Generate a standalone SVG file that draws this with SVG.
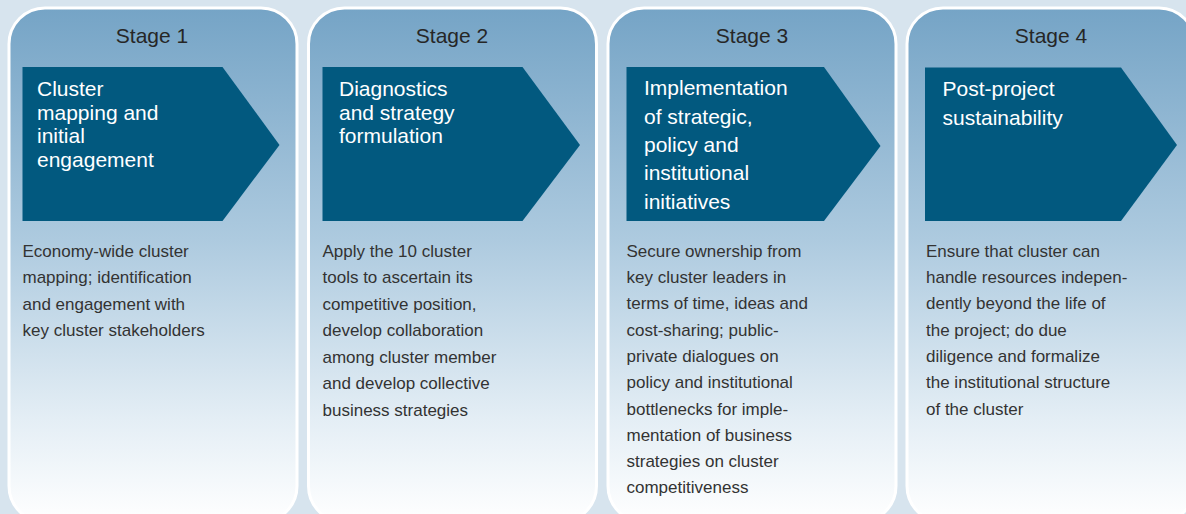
<svg xmlns="http://www.w3.org/2000/svg" width="1186" height="514" viewBox="0 0 1186 514">
<defs>
<linearGradient id="cardGrad" x1="0" y1="0" x2="0" y2="1" gradientUnits="objectBoundingBox">
<stop offset="0" stop-color="#75a4c6"/>
<stop offset="0.45" stop-color="#adcadf"/>
<stop offset="0.8" stop-color="#e4eef5"/>
<stop offset="1" stop-color="#ffffff"/>
</linearGradient>
<style>
.card{fill:url(#cardGrad);stroke:#ffffff;stroke-width:3}
.arrow{fill:#02597f}
.title{font-family:"Liberation Sans",Arial,sans-serif;font-size:21px;fill:#262626;text-anchor:middle}
.head{font-family:"Liberation Sans",Arial,sans-serif;font-size:21px;fill:#ffffff}
.body{font-family:"Liberation Sans",Arial,sans-serif;font-size:17px;fill:#333333}
</style>
</defs>
<rect x="0" y="0" width="1186" height="514" fill="#d7e4ee"/>
<g id="stage1">
<rect class="card" x="9" y="8" width="288" height="514" rx="36" ry="36"/>
<text class="title" x="152" y="43">Stage 1</text>
<polygon class="arrow" points="22.5,67 222.5,67 279.5,145 222.5,221 22.5,221"/>
<text class="head" x="37"><tspan x="37" y="96">Cluster</tspan><tspan x="37" y="119.5">mapping and</tspan><tspan x="37" y="143">initial</tspan><tspan x="37" y="167">engagement</tspan></text>
<text class="body"><tspan x="22.5" y="256.5">Economy-wide cluster</tspan><tspan x="22.5" y="283">mapping; identification</tspan><tspan x="22.5" y="309.5">and engagement with</tspan><tspan x="22.5" y="336">key cluster stakeholders</tspan></text>
</g>
<g id="stage2">
<rect class="card" x="308.5" y="8" width="288" height="514" rx="36" ry="36"/>
<text class="title" x="452" y="43">Stage 2</text>
<polygon class="arrow" points="322.5,67 522.5,67 580,145 522.5,221 322.5,221"/>
<text class="head"><tspan x="339" y="96">Diagnostics</tspan><tspan x="339" y="120">and strategy</tspan><tspan x="339" y="143">formulation</tspan></text>
<text class="body"><tspan x="322.5" y="256.5">Apply the 10 cluster</tspan><tspan x="322.5" y="283">tools to ascertain its</tspan><tspan x="322.5" y="309.5">competitive position,</tspan><tspan x="322.5" y="336">develop collaboration</tspan><tspan x="322.5" y="362.5">among cluster member</tspan><tspan x="322.5" y="389">and develop collective</tspan><tspan x="322.5" y="415.5">business strategies</tspan></text>
</g>
<g id="stage3">
<rect class="card" x="608" y="8" width="288" height="514" rx="36" ry="36"/>
<text class="title" x="752" y="43">Stage 3</text>
<polygon class="arrow" points="626.5,67 824,67 880.5,146 824,221 626.5,221"/>
<text class="head"><tspan x="644" y="95">Implementation</tspan><tspan x="644" y="123.5">of strategic,</tspan><tspan x="644" y="152">policy and</tspan><tspan x="644" y="180">institutional</tspan><tspan x="644" y="208.5">initiatives</tspan></text>
<text class="body"><tspan x="626.5" y="256.5">Secure ownership from</tspan><tspan x="626.5" y="283">key cluster leaders in</tspan><tspan x="626.5" y="309">terms of time, ideas and</tspan><tspan x="626.5" y="335.5">cost-sharing; public-</tspan><tspan x="626.5" y="361.5">private dialogues on</tspan><tspan x="626.5" y="388">policy and institutional</tspan><tspan x="626.5" y="414.5">bottlenecks for imple-</tspan><tspan x="626.5" y="440.5">mentation of business</tspan><tspan x="626.5" y="467">strategies on cluster</tspan><tspan x="626.5" y="493">competitiveness</tspan></text>
</g>
<g id="stage4">
<rect class="card" x="907" y="8" width="288" height="514" rx="36" ry="36"/>
<text class="title" x="1051" y="43">Stage 4</text>
<polygon class="arrow" points="925,67.5 1121,67.5 1177,145 1121,221 925,221"/>
<text class="head"><tspan x="942.5" y="95.5">Post-project</tspan><tspan x="942.5" y="124.5">sustainability</tspan></text>
<text class="body"><tspan x="926" y="256.5">Ensure that cluster can</tspan><tspan x="926" y="283">handle resources indepen-</tspan><tspan x="926" y="309">dently beyond the life of</tspan><tspan x="926" y="335.5">the project; do due</tspan><tspan x="926" y="361.5">diligence and formalize</tspan><tspan x="926" y="388">the institutional structure</tspan><tspan x="926" y="414.5">of the cluster</tspan></text>
</g>
<g id="connectors"/>
</svg>
